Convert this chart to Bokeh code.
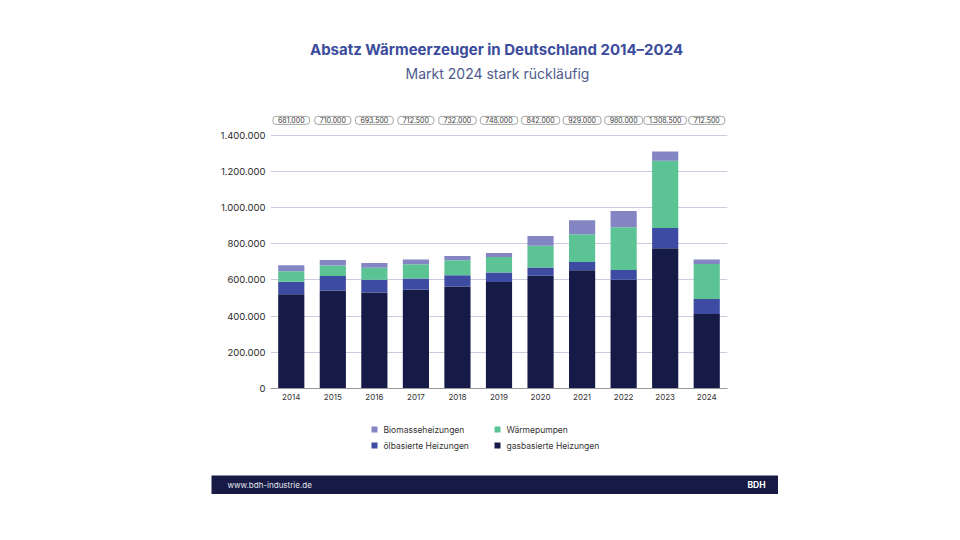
from bokeh.plotting import figure
from bokeh.models import (ColumnDataSource, FactorRange, Range1d, FixedTicker, Label, Spacer)
from bokeh.layouts import column, row
from bokeh.core.properties import value
from bokeh.embed import file_html
from bokeh.resources import INLINE

# ---------------- data ----------------
years = ["2014", "2015", "2016", "2017", "2018", "2019", "2020", "2021", "2022", "2023", "2024"]
gas = [520000, 541000, 530000, 547000, 563000, 588000, 623000, 653000, 600000, 774000, 412000]
oil = [69000, 81000, 70000, 61000, 62000, 53000, 46000, 45500, 54500, 112500, 83000]
wp = [58000, 57000, 66500, 78000, 84000, 86000, 120000, 154000, 236000, 371000, 193000]
bio = [34000, 31000, 27000, 26500, 23000, 21000, 53000, 76500, 89500, 51000, 24500]
totals = [681000, 710000, 693500, 712500, 732000, 748000, 842000, 929000, 980000, 1308500, 712500]
total_labels = ["681.000", "710.000", "693.500", "712.500", "732.000", "748.000",
                "842.000", "929.000", "980.000", "1.308.500", "712.500"]
y_ticks = [0, 200000, 400000, 600000, 800000, 1000000, 1200000, 1400000]
y_tick_labels = ["0", "200.000", "400.000", "600.000", "800.000", "1.000.000", "1.200.000", "1.400.000"]
legend_names = ["Biomasseheizungen", "Wärmepumpen", "ölbasierte Heizungen", "gasbasierte Heizungen"]

title_text = "Absatz Wärmeerzeuger in Deutschland 2014–2024"
subtitle_text = "Markt 2024 stark rückläufig"
footer_left = "www.bdh-industrie.de"
footer_right = "BDH"

# ---------------- style ----------------
FONT = "Inter"
C_GAS = "#161A47"
C_OIL = "#3D4BA3"
C_WP = "#5CC494"
C_BIO = "#8486C4"
legend_colors = [C_BIO, C_WP, C_OIL, C_GAS]
NAVY = "#161A45"
W = 944
FL, FR = 270, 727   # frame left / right in page pixels (shared by the stacked figures)

label_y = 1481000  # level of the total boxes


def blank(height):
    # x data units == page pixels, y data units == pixels from the bottom of this strip
    f = figure(width=W, height=height, x_range=Range1d(FL, FR), y_range=Range1d(0, height),
               output_backend="svg", toolbar_location=None, x_axis_type=None, y_axis_type=None,
               min_border_left=FL, min_border_right=W - FR, min_border_top=0, min_border_bottom=0)
    f.outline_line_color = None
    f.xgrid.grid_line_color = None
    f.ygrid.grid_line_color = None
    return f


# ---------------- header ----------------
HEAD_H = 111
head = blank(HEAD_H)
head.add_layout(Label(x=496, y=HEAD_H - 49, text=title_text, text_align="center", text_baseline="middle",
                      text_font=FONT, text_font_style="bold", text_font_size="15px", text_color="#3B4C9C"))
head.add_layout(Label(x=497, y=HEAD_H - 73, text=subtitle_text, text_align="center", text_baseline="middle",
                      text_font=FONT, text_font_size="14px", text_color="#4E5A8E"))

# ---------------- main chart ----------------
source = ColumnDataSource(dict(year=years, gas=gas, oil=oil, wp=wp, bio=bio,
                               total=totals, total_label=total_labels,
                               label_y=[label_y] * len(years)))

p = figure(width=W, height=301, x_range=FactorRange(factors=years),
           y_range=Range1d(0, 1530000), output_backend="svg", toolbar_location=None,
           min_border_left=FL, min_border_right=W - FR, min_border_top=0, min_border_bottom=24)
p.outline_line_color = None

stack = ["gas", "oil", "wp", "bio"]
p.vbar_stack(stack, x="year", width=0.63, color=[C_GAS, C_OIL, C_WP, C_BIO],
             line_color=None, source=source)

p.text(x="year", y="label_y", text="total_label", source=source,
       text_align="center", text_baseline="middle", text_font=value(FONT),
       text_font_size="7px", text_color="#3a3a3a",
       border_line_color="#8c8c8c", border_line_width=0.8,
       background_fill_color="white", border_radius=3,
       padding=dict(left=5, right=5, top=1, bottom=1))

p.yaxis.ticker = FixedTicker(ticks=y_ticks)
p.yaxis.major_label_overrides = {t: l for t, l in zip(y_ticks, y_tick_labels)}
p.yaxis.axis_line_color = None
p.yaxis.major_tick_line_color = None
p.yaxis.minor_tick_line_color = None
p.yaxis.major_tick_out = 0
p.yaxis.major_tick_in = 0
p.yaxis.major_label_standoff = 5
p.yaxis.major_label_text_font = FONT
p.yaxis.major_label_text_font_size = "9.5px"
p.yaxis.major_label_text_color = "#2a2a2a"

p.xaxis.axis_line_color = "#9a9a9a"
p.xaxis.axis_line_width = 1
p.xaxis.major_tick_line_color = None
p.xaxis.major_tick_out = 0
p.xaxis.major_tick_in = 0
p.xaxis.major_label_standoff = 5
p.xaxis.major_label_text_font = FONT
p.xaxis.major_label_text_font_size = "8px"
p.xaxis.major_label_text_color = "#333333"

p.xgrid.grid_line_color = None
p.ygrid.grid_line_color = "#c9ccdb"
p.ygrid.grid_line_width = 1

# ---------------- legend ----------------
LEG_H = 63
leg = blank(LEG_H)
cols = [i % 2 for i in range(len(legend_names))]
rows_ = [i // 2 for i in range(len(legend_names))]
leg_src = ColumnDataSource(dict(
    name=legend_names, color=legend_colors,
    sx=[374 + c * 123 for c in cols], tx=[383 + c * 123 for c in cols],
    y=[LEG_H - (17 + r * 16) for r in rows_]))
leg.rect(x="sx", y="y", width=6, height=6, color="color", line_color=None, source=leg_src)
leg.text(x="tx", y="y", text="name", source=leg_src, text_baseline="middle",
         text_font=value(FONT), text_font_size="8.5px", text_color="#333333")

# ---------------- footer ----------------
FOOT_W, FOOT_H = 567, 19
footer = figure(width=FOOT_W, height=FOOT_H, x_range=Range1d(0, FOOT_W), y_range=Range1d(0, FOOT_H),
                output_backend="svg", toolbar_location=None, x_axis_type=None, y_axis_type=None,
                min_border=0)
footer.outline_line_color = None
footer.xgrid.grid_line_color = None
footer.ygrid.grid_line_color = None
footer.background_fill_color = NAVY
footer.border_fill_color = NAVY
footer.add_layout(Label(x=16, y=9.5, text=footer_left, text_baseline="middle",
                        text_font=FONT, text_font_size="8px", text_color="#e6e6ee"))
footer.add_layout(Label(x=554, y=9.5, text=footer_right, text_align="right", text_baseline="middle",
                        text_font=FONT, text_font_style="bold", text_font_size="8.5px", text_color="white"))

layout = column(head, p, leg, row(Spacer(width=211, height=FOOT_H), footer))

open("out.html", "w").write(file_html(layout, INLINE))
